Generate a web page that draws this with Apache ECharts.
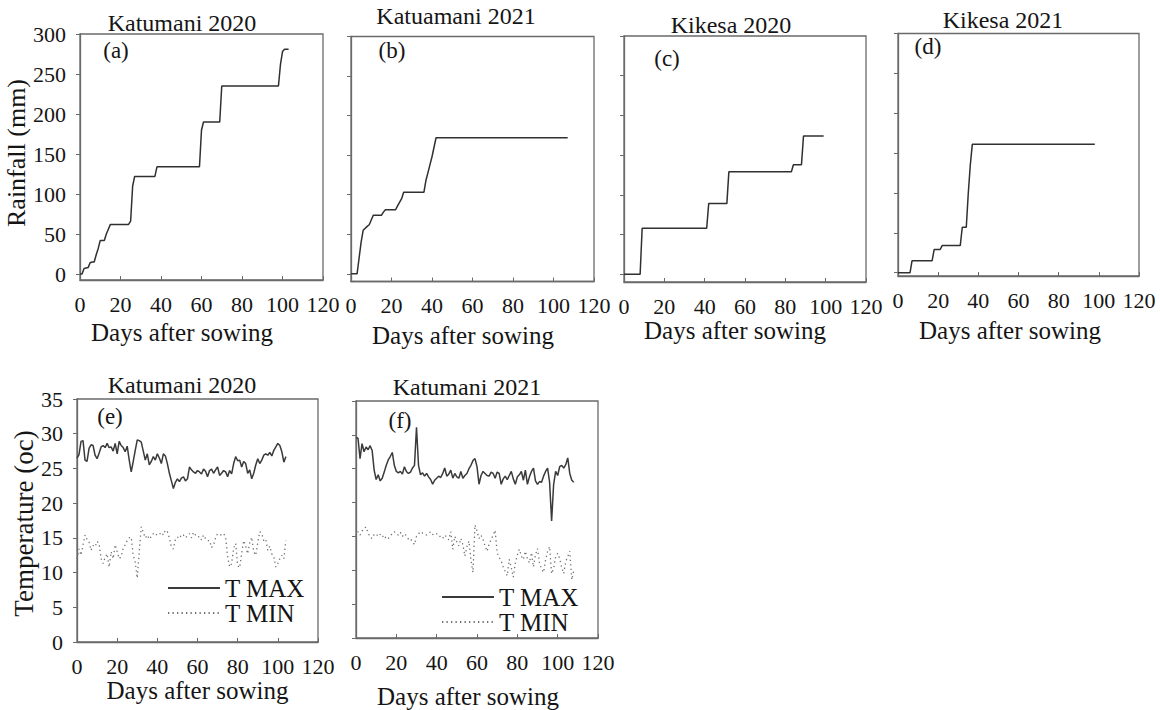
<!DOCTYPE html>
<html><head><meta charset="utf-8">
<script src="https://cdn.jsdelivr.net/npm/echarts@6/dist/echarts.min.js"></script>
<style>html,body{margin:0;padding:0;background:#fff}#c{width:1160px;height:710px}</style>
</head><body><div id="c"></div>
<script>
// ---------------- DATA ----------------
const dayTicks = [0, 20, 40, 60, 80, 100, 120];
const rainTicks = [0, 50, 100, 150, 200, 250, 300];
const tempTicks = [0, 5, 10, 15, 20, 25, 30, 35];

const panelTitles = ['Katumani 2020', 'Katuamani 2021', 'Kikesa 2020', 'Kikesa 2021', 'Katumani 2020', 'Katumani 2021'];
const panelLetters = ['(a)', '(b)', '(c)', '(d)', '(e)', '(f)'];
const xName = 'Days after sowing';
const rainName = 'Rainfall (mm)';
const tempName = 'Temperature (oc)';
const seriesNames = ['T MAX', 'T MIN'];

// cumulative rainfall (mm) vs days after sowing
const rainA_days = [0, 1, 2, 4, 5, 6, 7, 8, 9, 10, 12, 13, 14, 15, 24, 25, 26, 27, 37, 38, 59, 60, 61, 69, 70, 98, 99, 100, 101, 103];
const rainA_mm   = [0, 0, 7, 8, 14, 15, 15, 24, 32, 42, 42, 50, 56, 62, 62, 66, 110, 122, 122, 134, 134, 180, 190, 190, 235, 235, 262, 278, 281, 281];

const rainB_days = [0, 3, 4, 5, 6, 8, 9, 10, 11, 15, 16, 17, 22, 23, 25, 26, 36, 37, 38, 39, 40, 41, 42, 107];
const rainB_mm   = [0, 0, 20, 40, 55, 60, 62, 68, 74, 74, 78, 81, 81, 86, 95, 103, 103, 118, 128, 138, 148, 160, 172, 172];

const rainC_days = [0, 8, 9, 41, 42, 51, 52, 83, 84, 88, 89, 99];
const rainC_mm   = [0, 0, 58, 58, 89, 89, 129, 129, 138, 138, 174, 174];

const rainD_days = [0, 6, 7, 17, 18, 21, 22, 31, 32, 34, 35, 36, 37, 98];
const rainD_mm   = [0, 0, 15, 15, 29, 29, 34, 34, 57, 57, 100, 135, 161, 161];

// daily temperature (degC), index = day after sowing
const tmaxE = [26.5, 27.0, 28.9, 29.0, 26.2, 26.0, 27.9, 28.4, 28.3, 26.9, 26.4, 27.2, 28.1, 28.3, 28.0, 28.6, 28.0, 28.1, 27.5, 28.6,
  27.1, 28.9, 28.3, 28.0, 27.4, 28.2, 26.2, 24.5, 26.0, 27.6, 29.1, 29.0, 28.8, 27.5, 26.2, 27.1, 25.5, 26.0, 26.7, 26.2,
  27.1, 26.5, 25.7, 27.1, 26.8, 25.7, 24.3, 23.2, 22.1, 23.0, 23.5, 23.1, 23.6, 23.8, 23.2, 23.5, 25.2, 24.8, 24.5, 24.3,
  24.7, 24.5, 24.2, 24.9, 24.6, 23.8, 24.7, 24.9, 24.3, 24.8, 25.2, 24.0, 24.3, 24.7, 24.5, 23.8, 24.7, 24.2, 25.7, 26.7,
  26.1, 26.2, 25.2, 26.0, 25.7, 24.3, 24.8, 23.5, 24.3, 25.5, 26.4, 25.7, 26.2, 26.9, 27.1, 26.9, 27.3, 26.8, 27.6, 28.1,
  28.6, 28.3, 27.4, 25.9, 26.7];
const tminE = [12.0, 13.4, 12.5, 14.0, 15.4, 14.8, 14.4, 13.2, 13.9, 13.7, 14.5, 14.2, 12.0, 11.3, 12.2, 12.7, 10.8, 13.0, 12.0, 14.0,
  13.0, 12.0, 12.3, 13.5, 14.0, 14.6, 15.0, 15.1, 12.5, 11.5, 9.2, 13.0, 16.6, 15.8, 15.0, 15.4, 14.8, 15.2, 15.6, 15.3,
  15.6, 15.5, 15.8, 15.4, 16.1, 15.9, 15.0, 13.7, 13.4, 14.8, 15.1, 14.9, 15.5, 15.4, 15.0, 15.3, 15.6, 15.0, 15.8, 15.4,
  15.1, 15.2, 14.7, 15.4, 14.9, 14.6, 14.6, 13.6, 14.0, 15.0, 15.6, 15.5, 15.4, 15.6, 15.1, 12.3, 10.8, 11.3, 13.5, 14.2,
  11.0, 10.7, 12.8, 14.6, 13.8, 12.7, 14.3, 15.1, 13.0, 12.5, 14.3, 15.9, 15.6, 14.6, 14.8, 13.2, 13.8, 12.7, 12.3, 10.8,
  11.3, 12.0, 12.5, 12.0, 14.6];
const tmaxF = [29.6, 29.5, 26.5, 28.7, 27.5, 28.2, 27.8, 28.4, 27.7, 24.8, 23.4, 24.1, 23.2, 23.6, 24.5, 25.5, 26.3, 26.8, 27.4, 25.5,
  24.6, 24.4, 24.6, 24.2, 25.3, 24.6, 24.3, 24.5, 25.1, 25.5, 31.1, 25.5, 24.1, 24.4, 23.9, 24.3, 23.8, 23.4, 22.7, 23.3,
  23.6, 23.9, 23.7, 24.3, 25.1, 23.9, 24.2, 24.8, 23.6, 24.3, 23.8, 23.6, 24.6, 23.6, 24.0, 24.3, 25.0, 25.5, 26.2, 26.5,
  25.3, 22.7, 24.0, 24.6, 24.3, 24.0, 23.9, 24.5, 24.3, 23.6, 24.5, 24.3, 22.7, 23.5, 23.9, 23.4, 24.0, 24.6, 23.5, 22.7,
  23.8, 24.1, 24.6, 23.3, 24.8, 22.7, 23.8, 24.6, 25.1, 23.2, 22.7, 23.1, 23.0, 23.9, 24.6, 25.1, 23.0, 17.3, 22.7, 24.6,
  24.0, 25.3, 25.5, 25.1, 25.6, 26.6, 24.3, 23.3, 23.0];
const tminF = [15.0, 15.7, 15.2, 15.8, 16.2, 16.4, 15.5, 14.9, 14.7, 15.3, 15.4, 15.0, 15.3, 14.9, 15.2, 14.6, 14.7, 15.0, 15.5, 15.7,
  15.4, 15.2, 15.6, 15.0, 15.4, 15.1, 14.6, 14.7, 14.2, 13.8, 15.0, 15.4, 15.7, 15.5, 15.4, 15.2, 15.4, 15.7, 15.3, 15.2,
  15.4, 15.0, 15.0, 14.7, 15.2, 14.9, 14.5, 15.7, 13.1, 15.0, 14.2, 13.6, 14.7, 13.8, 12.1, 13.5, 14.3, 11.5, 9.7, 16.7,
  15.8, 14.7, 15.2, 14.5, 13.6, 12.8, 13.9, 14.5, 15.2, 15.9, 12.6, 11.9, 11.4, 10.5, 9.8, 9.2, 11.6, 10.4, 9.0, 11.0,
  12.3, 13.1, 12.1, 11.6, 12.8, 11.7, 11.1, 12.6, 10.5, 12.3, 13.2, 11.1, 10.2, 9.7, 11.5, 12.8, 13.5, 9.5, 10.3, 12.0,
  12.5, 11.7, 10.4, 9.5, 11.3, 12.0, 12.8, 8.6, 10.0];

// ---------------- LAYOUT ----------------
const FONT = '"Liberation Serif", "Times New Roman", serif';
const TXT = '#151515';
const AX = '#6a6a6a';
const grids = [
  {left: 80,  top: 34,  width: 243, height: 246},
  {left: 351, top: 36.5, width: 243, height: 245},
  {left: 624, top: 36,  width: 242, height: 246},
  {left: 898, top: 33.5, width: 241, height: 242.5},
  {left: 77,  top: 399, width: 241, height: 243},
  {left: 356, top: 401, width: 242, height: 243}
];
const rainMin = [-7.5, -9.7, -9.7, -4.2];
const xNameGap = [40, 41, 31, 42, 35, 46];
const xNameShift = [39, 19, 20, 17, 0, 18];
const titlePos = [[182, 23], [456, 16], [731, 25], [1003, 20], [182, 385], [467, 387]];
const letterPos = [[116, 50], [392, 50], [667, 58], [928, 46], [110, 416], [400, 420]];

const rainDays = [rainA_days, rainB_days, rainC_days, rainD_days];
const rainVals = [rainA_mm, rainB_mm, rainC_mm, rainD_mm];

const xAxis = [], yAxis = [], series = [], graphic = [];
grids.forEach((g, i) => {
  xAxis.push({
    type: 'value', gridIndex: i, min: 0, max: 120, interval: 20,
    axisLine: {show: true, onZero: false, lineStyle: {color: AX, width: 1.3}},
    axisTick: {show: true, inside: true, length: 4, lineStyle: {color: AX}},
    axisLabel: {fontSize: 22, fontFamily: FONT, color: TXT, margin: 13, showMinLabel: true, showMaxLabel: true},
    splitLine: {show: false},
    name: xName, nameLocation: 'middle', nameGap: xNameGap[i],
    nameTextStyle: {fontSize: 25, fontFamily: FONT, color: TXT, padding: [0, xNameShift[i], 0, 0]}
  });
  const isRain = i < 4;
  const showLab = (i === 0 || i === 4);
  const y = {
    type: 'value', gridIndex: i,
    axisLine: {show: true, onZero: false, lineStyle: {color: AX, width: 1.3}},
    axisTick: {show: true, inside: false, length: 4, lineStyle: {color: AX}},
    axisLabel: {show: showLab, fontSize: 22, fontFamily: FONT, color: TXT, margin: 14},
    splitLine: {show: false}
  };
  if (isRain) {
    y.min = rainMin[i]; y.max = 300;
    y.axisTick.customValues = rainTicks;
    y.axisLabel.customValues = rainTicks;
    if (i === 0) {
      y.name = rainName; y.nameLocation = 'middle'; y.nameGap = 50;
      y.nameTextStyle = {fontSize: 26, fontFamily: FONT, color: TXT, padding: [0, 0, 0, 8]};
    }
  } else {
    y.min = 0; y.max = 35; y.interval = 5;
    if (i === 4) {
      y.name = tempName; y.nameLocation = 'middle'; y.nameGap = 40;
      y.nameTextStyle = {fontSize: 27, fontFamily: FONT, color: TXT, padding: [0, 6, 0, 0]};
    }
  }
  yAxis.push(y);
  graphic.push({type: 'text', style: {text: panelTitles[i], font: '24px "Liberation Serif", serif', fill: TXT, align: 'center', verticalAlign: 'middle'}, x: titlePos[i][0], y: titlePos[i][1]});
  graphic.push({type: 'text', style: {text: panelLetters[i], font: '23px "Liberation Serif", serif', fill: TXT, align: 'center', verticalAlign: 'middle'}, x: letterPos[i][0], y: letterPos[i][1]});
});

for (let i = 0; i < 4; i++) {
  series.push({
    type: 'line', name: 'Rainfall', xAxisIndex: i, yAxisIndex: i,
    data: rainDays[i].map((d, k) => [d, rainVals[i][k]]),
    symbol: 'none', showSymbol: false,
    lineStyle: {color: '#303030', width: 1.5}
  });
}
[[tmaxE, tminE], [tmaxF, tminF]].forEach((pair, j) => {
  const gi = 4 + j;
  series.push({
    type: 'line', name: seriesNames[0], xAxisIndex: gi, yAxisIndex: gi,
    data: pair[0].map((v, d) => [d, v]),
    symbol: 'none', showSymbol: false,
    lineStyle: {color: '#3a3a3a', width: 1.5}, itemStyle: {color: '#3a3a3a'}
  });
  series.push({
    type: 'line', name: seriesNames[1], xAxisIndex: gi, yAxisIndex: gi,
    data: pair[1].map((v, d) => [d, v]),
    symbol: 'none', showSymbol: false,
    lineStyle: {color: '#707070', width: 1.3, type: [1.3, 3.2]}, itemStyle: {color: '#707070'}
  });
});

const legendBase = {
  selectedMode: false, orient: 'vertical', itemWidth: 52, itemHeight: 12, padding: 0,
  itemStyle: {opacity: 0, color: 'transparent', borderWidth: 0},
  textStyle: {fontSize: 25, fontFamily: FONT, color: TXT}, data: seriesNames
};

const option = {
  animation: false,
  backgroundColor: '#ffffff',
  grid: grids.map(g => Object.assign({show: true, borderColor: AX, borderWidth: 1.3, backgroundColor: 'transparent'}, g)),
  xAxis, yAxis, series, graphic,
  legend: [
    Object.assign({}, legendBase, {left: 167, top: 575.5, itemGap: 0}),
    Object.assign({}, legendBase, {left: 441, top: 584.5, itemGap: 0})
  ]
};
const chart = echarts.init(document.getElementById('c'), null, {renderer: 'svg'});
chart.setOption(option);
</script>
</body></html>
